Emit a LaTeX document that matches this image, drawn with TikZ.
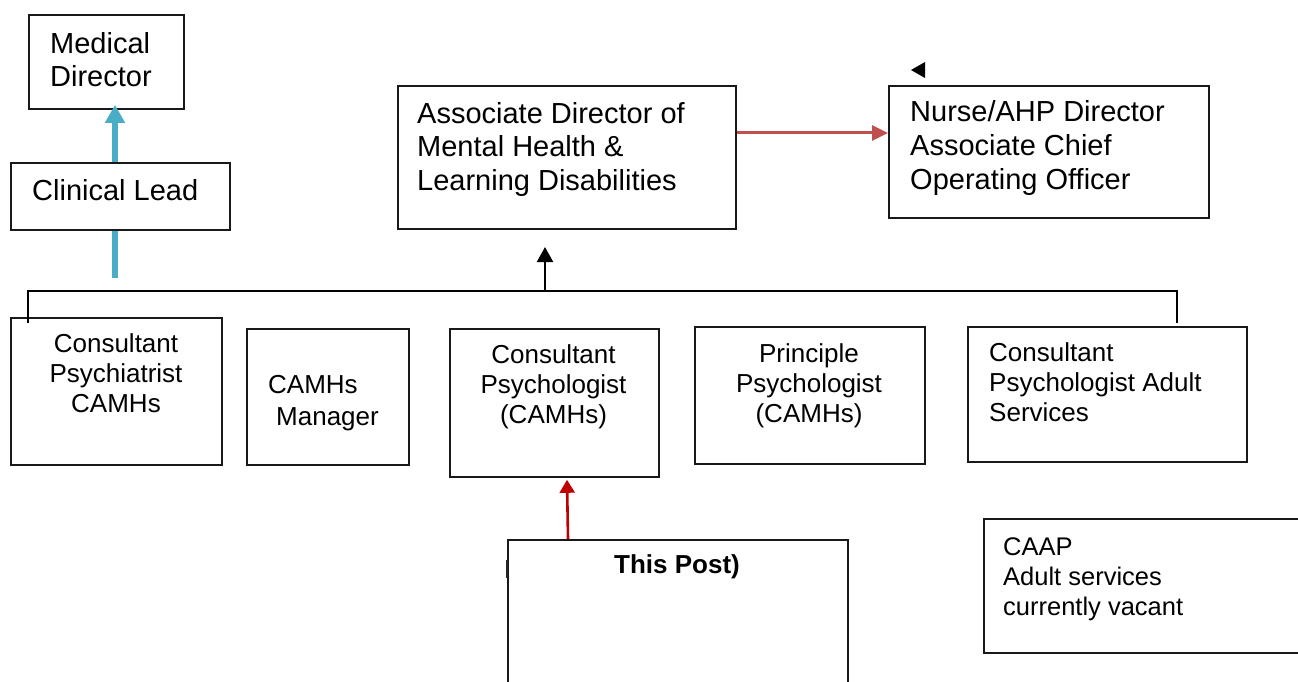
\documentclass[tikz,border=0pt]{standalone}
\usepackage{fontspec}
\setmainfont{Liberation Sans}
\usetikzlibrary{arrows.meta,calc}
\definecolor{cblue}{HTML}{4BACC6}
\definecolor{cred}{HTML}{C0504D}
\definecolor{dred}{HTML}{C00000}
\begin{document}
\begin{tikzpicture}[x=1pt,y=-1pt,
  box/.style={draw=black!90,line width=1.8pt,inner sep=0pt,anchor=north west},
  tbig/.style={inner sep=0pt,align=left,font=\fontsize{29}{33.5}\selectfont},
  tmid/.style={inner sep=0pt,font=\fontsize{26}{30}\selectfont},
  conn/.style={line width=2.2pt,black},
  bluearr/.style={line width=6.5pt,cblue,-{Triangle[width=19pt,length=18pt]}},
  redarr/.style={line width=3pt,cred,-{Triangle[width=15pt,length=16pt]}},
  dredarr/.style={line width=2.6pt,dred,-{Triangle[width=15pt,length=13pt]}},
  blkarr/.style={line width=2.2pt,black,-{Triangle[width=16pt,length=15pt]}}]
\useasboundingbox (0,0) rectangle (1298,682);
% boxes
\node[box,minimum width=155pt,minimum height=94pt] (md) at (28,14) {};
\node[box,minimum width=219pt,minimum height=67pt] (cl) at (10,162) {};
\node[box,minimum width=338pt,minimum height=143pt] (ad) at (397,85) {};
\node[box,minimum width=320pt,minimum height=132pt] (nd) at (888,85) {};
\node[box,minimum width=211pt,minimum height=147pt] (cp1) at (10,317) {};
\node[box,minimum width=162pt,minimum height=136pt] (mgr) at (246,328) {};
\node[box,minimum width=209pt,minimum height=148pt] (cp2) at (449,328) {};
\node[box,minimum width=230pt,minimum height=137pt] (pp) at (694,326) {};
\node[box,minimum width=279pt,minimum height=135pt] (cpa) at (967,326) {};
\node[box,minimum width=340pt,minimum height=160pt] (tp) at (507,539) {};
\node[box,minimum width=330pt,minimum height=134pt] (caap) at (983,518) {};
% texts (base anchor = baseline of last line)
\node[tbig,anchor=base west] (mdt) at (50,87) {Medical\\Director};
\node[tbig,anchor=base west] (clt) at (32,200) {Clinical Lead};
\node[tbig,anchor=base west] (adt) at (417,190) {Associate Director of\\Mental Health \&\\Learning Disabilities};
\node[tbig,anchor=base west] (ndt) at (910,189) {Nurse/AHP Director\\Associate Chief\\Operating Officer};
\node[tmid,align=center,anchor=base] (cp1t) at (116,412) {Consultant\\Psychiatrist\\CAMHs};
\node[tmid,align=left,anchor=base west,font=\fontsize{26}{32}\selectfont] (mgrt) at (268,425) {CAMHs\\\hspace*{8pt}Manager};
\node[tmid,align=center,anchor=base] (cp2t) at (553.5,423) {Consultant\\Psychologist\\(CAMHs)};
\node[tmid,align=center,anchor=base] (ppt) at (809,422) {Principle\\Psychologist\\(CAMHs)};
\node[tmid,align=left,anchor=base west] (cpat) at (989,421) {Consultant\\Psychologist Adult\\Services};
\node[tmid,align=left,anchor=base west,font=\fontsize{25.5}{30}\selectfont] (caapt) at (1003,615) {CAAP\\Adult services\\currently vacant};
\node[tmid,anchor=base,font=\fontsize{26}{30}\selectfont\bfseries] (tpt) at (677,573) {This Post)};
% connectors
\coordinate (bx) at (115,0);
\draw[bluearr] (bx |- cl.north) -- ([yshift=5pt]bx |- md.south);
\coordinate (bend) at (115,278);
\draw[line width=6.5pt,cblue] (bx |- cl.south) -- (bend);
\coordinate (ry) at (0,133);
\draw[redarr] (ad.east |- ry) -- (nd.west |- ry);
\coordinate (hl) at (0,291);
\coordinate (h1) at (28,323);
\coordinate (h2) at (1177,323);
\draw[conn] (h1) -- (h1 |- hl) -- (h2 |- hl) -- (h2);
\coordinate (ax) at (545,0);
\coordinate (atip) at (545,247);
\draw[blkarr] (ax |- hl) -- (atip);
\draw[dredarr] ($(tp.north west)+(61,0)$) -- ($(cp2.south west)+(118,2)$);
\draw[line width=2.6pt,black!85] ($(tp.north west)+(0,21)$) -- ($(tp.north west)+(0,39)$);
\fill[black] (911,70) -- (925,62) -- (925,78) -- cycle;
\end{tikzpicture}
\end{document}
